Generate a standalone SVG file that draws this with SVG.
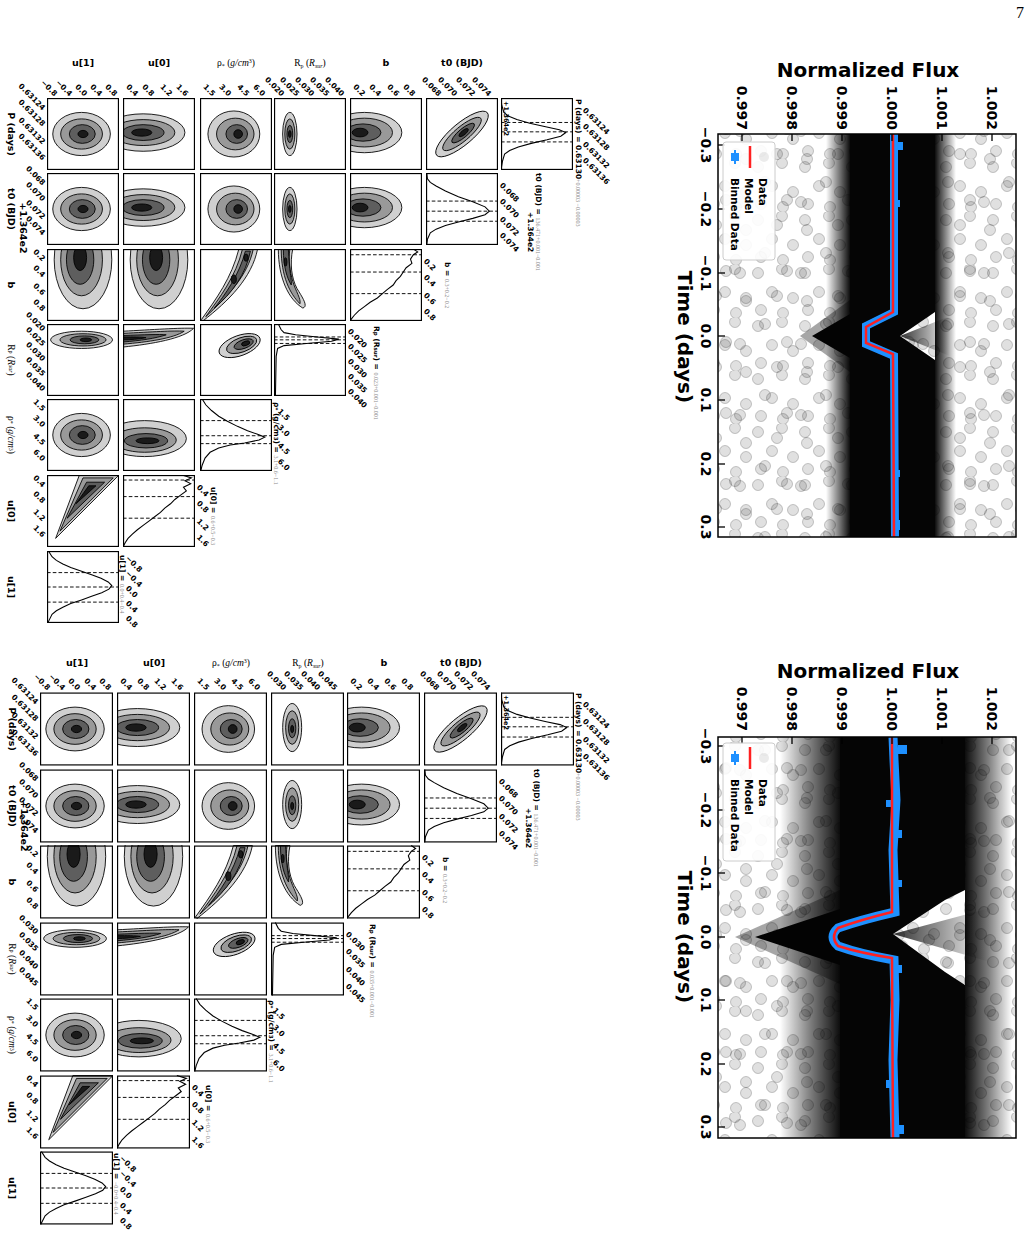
<svg xmlns="http://www.w3.org/2000/svg" xmlns:xlink="http://www.w3.org/1999/xlink" width="1031" height="1233" viewBox="0 0 1031 1233">
<style>
.c ellipse,.c path{stroke:#000;stroke-width:1.2}
.l1{fill:#d0d0d0}.l2{fill:#999}.l3{fill:#5e5e5e}.l4{fill:#1a1a1a}
.fr{fill:none;stroke:#000;stroke-width:1.6}
.h{fill:none;stroke:#000;stroke-width:1.5}
.dl{stroke:#000;stroke-width:1.3;stroke-dasharray:5 3}
.tk{font-family:"DejaVu Sans",sans-serif;font-weight:bold;font-size:7.5px;dominant-baseline:central}
.hd{font-family:"DejaVu Sans",sans-serif;font-weight:bold;font-size:9.5px;text-anchor:middle}
.sf{font-family:"Liberation Serif",serif;font-size:9.5px;text-anchor:middle}
.rl{font-family:"DejaVu Sans",sans-serif;font-weight:bold;font-size:9.5px;text-anchor:middle;dominant-baseline:central}
.rs{font-family:"Liberation Serif",serif;font-size:9.5px;text-anchor:middle;dominant-baseline:central}
.hl{font-family:"DejaVu Sans",sans-serif;font-weight:bold;font-size:7.5px;dominant-baseline:central}
.gv{fill:#888;font-family:"Liberation Serif",serif;font-weight:normal;font-size:6px}
.ax{font-family:"DejaVu Sans",sans-serif;font-weight:bold;font-size:14px;dominant-baseline:central}
.ttl{font-family:"DejaVu Sans",sans-serif;font-weight:bold;font-size:20px}
.lg{font-family:"DejaVu Sans",sans-serif;font-weight:bold;font-size:10.5px;dominant-baseline:central}
.tm{stroke:#000;stroke-width:1.3}
</style>
<defs>
<pattern id="dA" width="47" height="53" patternUnits="userSpaceOnUse">
<g fill="#000" fill-opacity="0.12" stroke="#000" stroke-opacity="0.2">
<circle cx="6" cy="8" r="5.5"/><circle cx="30" cy="4" r="5.5"/><circle cx="20" cy="27" r="5.5"/><circle cx="41" cy="33" r="5.5"/><circle cx="9" cy="45" r="5.5"/><circle cx="31" cy="48" r="5.5"/></g>
</pattern>
<pattern id="dB" width="61" height="71" patternUnits="userSpaceOnUse">
<g fill="#000" fill-opacity="0.12" stroke="#000" stroke-opacity="0.2">
<circle cx="14" cy="17" r="5.5"/><circle cx="45" cy="12" r="5.5"/><circle cx="33" cy="40" r="5.5"/><circle cx="55" cy="58" r="5.5"/><circle cx="8" cy="60" r="5.5"/></g>
</pattern>
<linearGradient id="gL1" gradientUnits="userSpaceOnUse" x1="826" y1="0" x2="850" y2="0"><stop offset="0" stop-color="#000" stop-opacity="0"/><stop offset="1" stop-color="#000" stop-opacity="0.95"/></linearGradient>
<linearGradient id="gR1" gradientUnits="userSpaceOnUse" x1="935" y1="0" x2="956" y2="0"><stop offset="0" stop-color="#000" stop-opacity="0.95"/><stop offset="1" stop-color="#000" stop-opacity="0"/></linearGradient>
<linearGradient id="gL2" gradientUnits="userSpaceOnUse" x1="780" y1="0" x2="840" y2="0"><stop offset="0" stop-color="#000" stop-opacity="0"/><stop offset="0.5" stop-color="#000" stop-opacity="0.5"/><stop offset="1" stop-color="#000" stop-opacity="0.95"/></linearGradient>
<linearGradient id="gR2" gradientUnits="userSpaceOnUse" x1="965" y1="0" x2="1012" y2="0"><stop offset="0" stop-color="#000" stop-opacity="0.95"/><stop offset="0.5" stop-color="#000" stop-opacity="0.5"/><stop offset="1" stop-color="#000" stop-opacity="0"/></linearGradient>
<linearGradient id="gN" x1="0" y1="0" x2="1" y2="0"><stop offset="0" stop-color="#000" stop-opacity="0.8"/><stop offset="1" stop-color="#000" stop-opacity="0"/></linearGradient>
<clipPath id="cp1"><rect x="718" y="134" width="298" height="403"/></clipPath>
<clipPath id="cp2"><rect x="718" y="737" width="298" height="401"/></clipPath>

<symbol id="blobC" viewBox="0 0 100 100"><g class="c"><ellipse class="l1" cx="48" cy="50" rx="40" ry="30"/><ellipse class="l2" cx="48" cy="50" rx="29" ry="21"/><ellipse class="l3" cx="49" cy="50" rx="18" ry="13"/><ellipse class="l4" cx="50" cy="50" rx="7" ry="5"/></g><rect class="fr" x="0.8" y="0.8" width="98.4" height="98.4"/></symbol>
<symbol id="blobL" viewBox="0 0 100 100"><g class="c"><ellipse class="l1" cx="28" cy="48" rx="58" ry="26"/><ellipse class="l2" cx="28" cy="48" rx="44" ry="18"/><ellipse class="l3" cx="28" cy="48" rx="29" ry="11"/><ellipse class="l4" cx="26" cy="48" rx="14" ry="5"/></g><rect class="fr" x="0.8" y="0.8" width="98.4" height="98.4"/></symbol>
<symbol id="blobR" viewBox="0 0 100 100"><g class="c"><ellipse class="l1" cx="47" cy="50" rx="36" ry="32"/><ellipse class="l2" cx="49" cy="50" rx="26" ry="22"/><ellipse class="l3" cx="51" cy="50" rx="15" ry="13"/><ellipse class="l4" cx="53" cy="50" rx="6" ry="6"/></g><rect class="fr" x="0.8" y="0.8" width="98.4" height="98.4"/></symbol>
<symbol id="vEllA" viewBox="0 0 100 100"><g class="c"><ellipse class="l1" cx="22" cy="50" rx="10" ry="30"/><ellipse class="l2" cx="22" cy="50" rx="7" ry="21"/><ellipse class="l3" cx="22" cy="50" rx="4" ry="12"/><ellipse class="l4" cx="22" cy="50" rx="1.8" ry="5"/></g><rect class="fr" x="0.8" y="0.8" width="98.4" height="98.4"/></symbol>
<symbol id="vEllB" viewBox="0 0 100 100"><g class="c"><ellipse class="l1" cx="29" cy="48" rx="13" ry="33"/><ellipse class="l2" cx="29" cy="48" rx="9" ry="23"/><ellipse class="l3" cx="29" cy="49" rx="5" ry="13"/><ellipse class="l4" cx="29" cy="50" rx="2" ry="5"/></g><rect class="fr" x="0.8" y="0.8" width="98.4" height="98.4"/></symbol>
<symbol id="bLeft" viewBox="0 0 100 100"><g class="c"><ellipse class="l1" cx="20" cy="48" rx="52" ry="28"/><ellipse class="l2" cx="20" cy="48" rx="39" ry="20"/><ellipse class="l3" cx="18" cy="48" rx="25" ry="12"/><ellipse class="l4" cx="14" cy="48" rx="11" ry="6"/></g><rect class="fr" x="0.8" y="0.8" width="98.4" height="98.4"/></symbol>
<symbol id="diag" viewBox="0 0 100 100"><g class="c" transform="rotate(-40 50 50)"><ellipse class="l1" cx="50" cy="50" rx="46" ry="15"/><ellipse class="l2" cx="50" cy="50" rx="34" ry="10"/><ellipse class="l3" cx="52" cy="50" rx="20" ry="6"/><ellipse class="l4" cx="53" cy="50" rx="8" ry="3"/></g><rect class="fr" x="0.8" y="0.8" width="98.4" height="98.4"/></symbol>
<symbol id="bTall" viewBox="0 0 100 100"><g class="c"><ellipse class="l1" cx="50" cy="15" rx="40" ry="68"/><ellipse class="l2" cx="48" cy="15" rx="29" ry="50"/><ellipse class="l3" cx="46" cy="15" rx="19" ry="34"/><ellipse class="l4" cx="46" cy="12" rx="9" ry="18"/></g><rect class="fr" x="0.8" y="0.8" width="98.4" height="98.4"/></symbol>
<symbol id="bRho" viewBox="0 0 100 100"><g class="c"><path class="l1" d="M2,98 C22,70 44,40 54,0 L80,0 C72,40 40,72 4,100 Z"/><path class="l2" d="M8,94 C27,68 50,38 59,0 L74,0 C66,38 38,66 8,94Z"/><path class="l3" d="M20,82 C34,65 55,35 63,3 L70,3 C64,35 44,62 20,82Z"/><ellipse class="l4" cx="47" cy="42" rx="3.5" ry="6"/><ellipse class="l4" cx="64" cy="12" rx="3" ry="5"/></g><rect class="fr" x="0.8" y="0.8" width="98.4" height="98.4"/></symbol>
<symbol id="bRp" viewBox="0 0 100 100"><g class="c"><path class="l1" d="M6,0 C6,40 20,70 40,82 C48,80 40,68 32,55 C24,40 22,20 26,0Z"/><path class="l2" d="M10,0 C10,38 22,62 36,76 C38,70 30,58 26,45 C22,30 20,15 22,0Z"/><path class="l3" d="M13,0 C13,25 18,40 24,50 C25,44 21,30 20,0Z"/><ellipse class="l4" cx="16" cy="18" rx="2" ry="6"/></g><rect class="fr" x="0.8" y="0.8" width="98.4" height="98.4"/></symbol>
<symbol id="rpH" viewBox="0 0 100 100"><g class="c"><ellipse class="l1" cx="48" cy="22" rx="43" ry="12"/><ellipse class="l2" cx="50" cy="22" rx="32" ry="8.5"/><ellipse class="l3" cx="52" cy="22" rx="20" ry="5.5"/><ellipse class="l4" cx="54" cy="22" rx="8" ry="2.5"/></g><rect class="fr" x="0.8" y="0.8" width="98.4" height="98.4"/></symbol>
<symbol id="rpWedge" viewBox="0 0 100 100"><g class="c"><path class="l1" d="M0,10 C40,8 80,5 98,6 C85,20 40,28 0,32Z"/><path class="l2" d="M0,13 C40,11 70,9 85,10 C70,20 35,25 0,28Z"/><path class="l3" d="M0,16 C30,15 50,14 60,15 C45,20 25,23 0,25Z"/><path class="l4" d="M0,18 C15,18 25,18 32,19 C22,21 10,22 0,22Z"/></g><rect class="fr" x="0.8" y="0.8" width="98.4" height="98.4"/></symbol>
<symbol id="rpSmall" viewBox="0 0 100 100"><g class="c" transform="rotate(-20 55 30)"><ellipse class="l1" cx="55" cy="30" rx="30" ry="14"/><ellipse class="l2" cx="58" cy="30" rx="22" ry="10"/><ellipse class="l3" cx="61" cy="30" rx="14" ry="6"/><ellipse class="l4" cx="64" cy="30" rx="6" ry="3"/></g><rect class="fr" x="0.8" y="0.8" width="98.4" height="98.4"/></symbol>
<symbol id="rhoU0" viewBox="0 0 100 100"><g class="c"><ellipse class="l1" cx="30" cy="55" rx="58" ry="25"/><ellipse class="l2" cx="30" cy="57" rx="44" ry="17"/><ellipse class="l3" cx="32" cy="58" rx="30" ry="10"/><ellipse class="l4" cx="34" cy="58" rx="16" ry="4"/></g><rect class="fr" x="0.8" y="0.8" width="98.4" height="98.4"/></symbol>
<symbol id="tri" viewBox="0 0 100 100"><g class="c"><path class="l1" d="M12,88 L45,0 L100,0 Z"/><path class="l2" d="M18,78 L50,4 L92,4Z"/><path class="l3" d="M28,60 L55,10 L80,10Z"/><path class="l4" d="M40,40 L58,15 L68,15Z"/></g><rect class="fr" x="0.8" y="0.8" width="98.4" height="98.4"/></symbol>

<symbol id="hP" viewBox="0 0 100 100"><line class="dl" x1="0" y1="34" x2="100" y2="34"/><line class="dl" x1="0" y1="47" x2="100" y2="47"/><line class="dl" x1="0" y1="61" x2="100" y2="61"/><polyline class="h" points="0,0 1,10 4,20 10,25 22,30 40,35 62,40 81,44 90,48 83,53 64,58 42,63 24,68 12,73 5,78 2,88 0,100"/><rect class="fr" x="0.8" y="0.8" width="98.4" height="98.4"/></symbol>
<symbol id="hT0" viewBox="0 0 100 100"><line class="dl" x1="0" y1="39" x2="100" y2="39"/><line class="dl" x1="0" y1="53" x2="100" y2="53"/><line class="dl" x1="0" y1="67" x2="100" y2="67"/><polyline class="h" points="1,0 2,8 6,13 14,18 27,25 45,33 65,40 82,47 88,53 82,58 65,63 45,68 27,73 14,78 6,83 2,92 1,100"/><rect class="fr" x="0.8" y="0.8" width="98.4" height="98.4"/></symbol>
<symbol id="hB" viewBox="0 0 100 100"><line class="dl" x1="0" y1="8" x2="100" y2="8"/><line class="dl" x1="0" y1="32" x2="100" y2="32"/><line class="dl" x1="0" y1="62" x2="100" y2="62"/><polyline class="h" points="88,0 94,4 88,8 84,14 86,20 78,26 74,32 70,38 64,44 60,50 52,56 45,62 38,68 28,74 20,80 12,86 6,92 2,97 0,100"/><rect class="fr" x="0.8" y="0.8" width="98.4" height="98.4"/></symbol>
<symbol id="hRp" viewBox="0 0 100 100"><line class="dl" x1="0" y1="18" x2="100" y2="18"/><line class="dl" x1="0" y1="22" x2="100" y2="22"/><line class="dl" x1="0" y1="27" x2="100" y2="27"/><polyline class="h" points="6,0 10,8 14,12 30,15 60,18 90,21 80,24 45,27 14,30 5,34 3,45 2,100"/><rect class="fr" x="0.8" y="0.8" width="98.4" height="98.4"/></symbol>
<symbol id="hRho" viewBox="0 0 100 100"><line class="dl" x1="0" y1="30" x2="100" y2="30"/><line class="dl" x1="0" y1="51" x2="100" y2="51"/><line class="dl" x1="0" y1="62" x2="100" y2="62"/><polyline class="h" points="3,0 8,8 16,16 26,24 38,31 52,38 66,44 80,49 90,53 82,57 62,61 42,64 26,68 14,74 7,82 3,92 1,100"/><rect class="fr" x="0.8" y="0.8" width="98.4" height="98.4"/></symbol>
<symbol id="hU0" viewBox="0 0 100 100"><line class="dl" x1="0" y1="7" x2="100" y2="7"/><line class="dl" x1="0" y1="30" x2="100" y2="30"/><line class="dl" x1="0" y1="60" x2="100" y2="60"/><polyline class="h" points="82,0 95,4 86,8 94,12 84,17 88,22 80,28 72,34 66,40 58,46 52,52 44,58 36,64 28,70 20,76 13,82 7,88 3,94 0,100"/><rect class="fr" x="0.8" y="0.8" width="98.4" height="98.4"/></symbol>
<symbol id="hU1" viewBox="0 0 100 100"><line class="dl" x1="0" y1="30" x2="100" y2="30"/><line class="dl" x1="0" y1="50" x2="100" y2="50"/><line class="dl" x1="0" y1="71" x2="100" y2="71"/><polyline class="h" points="2,0 7,8 13,13 22,18 33,23 48,28 62,33 75,38 85,43 90,48 86,53 76,58 62,63 48,68 33,73 22,78 13,83 7,88 3,96 1,100"/><rect class="fr" x="0.8" y="0.8" width="98.4" height="98.4"/></symbol>
</defs>

<rect width="1031" height="1233" fill="#fff"/>
<text x="1020" y="18" font-family="Liberation Serif, serif" font-size="16" text-anchor="middle">7</text>

<!-- ===== Light curve 1 ===== -->
<g id="lightcurve1">
<text class="ttl" x="868" y="77" text-anchor="middle">Normalized Flux</text>
<text class="ttl" transform="translate(685,337) rotate(90)" text-anchor="middle" dominant-baseline="central">Time (days)</text>
<g clip-path="url(#cp1)">
<rect x="718" y="134" width="298" height="403" fill="url(#dA)"/>
<rect x="718" y="134" width="298" height="403" fill="url(#dB)"/>
<rect x="826" y="134" width="24" height="403" fill="url(#gL1)"/>
<rect x="935" y="134" width="21" height="403" fill="url(#gR1)"/>
<polygon points="850,134 935,134 935,312 900,336 935,360 935,537 850,537 850,358 812,336 850,314" fill="#050505"/>
<polygon points="900,336 950,316 950,356" fill="url(#gN)"/>
<polygon points="850,300 800,336 850,372" fill="#000" fill-opacity="0.35"/>
<path d="M894,134 L894,312 L866,326 L866,344 L894,356 L895,537" fill="none" stroke="#1e90ff" stroke-width="8"/>
<g fill="#1e90ff"><rect x="896" y="142" width="7" height="8"/><rect x="893" y="520" width="7" height="10"/><rect x="895" y="470" width="5" height="7"/><rect x="895" y="200" width="5" height="7"/></g>
<path d="M893,134 L893,312 L866,327 L866,343 L893,354 L894,537" fill="none" stroke="#ff2020" stroke-width="2.5"/>
</g>
<rect x="718" y="134" width="298" height="403" fill="none" stroke="#000" stroke-width="1.5"/>
<g class="tm">
<line x1="742" y1="134" x2="742" y2="141"/><line x1="792" y1="134" x2="792" y2="141"/><line x1="842" y1="134" x2="842" y2="141"/><line x1="892" y1="134" x2="892" y2="141"/><line x1="942" y1="134" x2="942" y2="141"/><line x1="992" y1="134" x2="992" y2="141"/>
<line x1="718" y1="145" x2="725" y2="145"/><line x1="718" y1="209" x2="725" y2="209"/><line x1="718" y1="273" x2="725" y2="273"/><line x1="718" y1="336" x2="725" y2="336"/><line x1="718" y1="400" x2="725" y2="400"/><line x1="718" y1="464" x2="725" y2="464"/><line x1="718" y1="527" x2="725" y2="527"/>
</g>
<g class="ax" text-anchor="end">
<text transform="translate(742,130) rotate(90)">0.997</text><text transform="translate(792,130) rotate(90)">0.998</text><text transform="translate(842,130) rotate(90)">0.999</text><text transform="translate(892,130) rotate(90)">1.000</text><text transform="translate(942,130) rotate(90)">1.001</text><text transform="translate(992,130) rotate(90)">1.002</text>
</g>
<g class="ax" text-anchor="middle">
<text transform="translate(706,145) rotate(90)">−0.3</text><text transform="translate(706,209) rotate(90)">−0.2</text><text transform="translate(706,273) rotate(90)">−0.1</text><text transform="translate(706,336) rotate(90)">0.0</text><text transform="translate(706,400) rotate(90)">0.1</text><text transform="translate(706,464) rotate(90)">0.2</text><text transform="translate(706,527) rotate(90)">0.3</text>
</g>
<g id="legend1">
<rect x="723" y="142" width="52" height="118" rx="3" fill="#fff" fill-opacity="0.9" stroke="#ccc"/>
<circle cx="764" cy="157" r="5" fill="#000" fill-opacity="0.08"/>
<line x1="750" y1="146" x2="750" y2="168" stroke="#ff2020" stroke-width="2.5"/>
<rect x="731" y="153" width="8" height="8" fill="#1e90ff"/><line x1="735" y1="150" x2="735" y2="164" stroke="#1e90ff" stroke-width="2"/>
<text class="lg" transform="translate(763,178) rotate(90)">Data</text>
<text class="lg" transform="translate(749,178) rotate(90)">Model</text>
<text class="lg" transform="translate(735,178) rotate(90)">Binned Data</text>
</g>
</g>

<!-- ===== Light curve 2 ===== -->
<g id="lightcurve2">
<text class="ttl" x="868" y="678" text-anchor="middle">Normalized Flux</text>
<text class="ttl" transform="translate(685,937) rotate(90)" text-anchor="middle" dominant-baseline="central">Time (days)</text>
<g clip-path="url(#cp2)">
<rect x="718" y="737" width="298" height="401" fill="url(#dA)"/>
<rect x="718" y="737" width="298" height="401" fill="url(#dB)"/>
<rect x="780" y="737" width="60" height="401" fill="url(#gL2)"/>
<rect x="965" y="737" width="47" height="401" fill="url(#gR2)"/>
<polygon points="840,737 965,737 965,890 945,900 893,934 945,972 965,985 965,1138 840,1138 840,965 755,937 840,909" fill="#050505"/>
<polygon points="893,934 990,908 990,962" fill="url(#gN)"/>
<polygon points="840,890 735,937 840,984" fill="#000" fill-opacity="0.35"/>
<path d="M893,737 L894,760 L896,800 L893,850 L895,912 Q860,920 838,928 Q828,937 838,946 Q860,954 894,960 L895,1000 L893,1060 L895,1138" fill="none" stroke="#1e90ff" stroke-width="9"/>
<g fill="#1e90ff"><rect x="898" y="745" width="9" height="9"/><rect x="896" y="1125" width="8" height="9"/><rect x="896" y="830" width="6" height="8"/><rect x="896" y="965" width="6" height="8"/><rect x="886" y="1080" width="6" height="8"/><rect x="897" y="880" width="5" height="7"/><rect x="886" y="800" width="5" height="7"/></g>
<path d="M892,737 L892,912 Q860,920 838,928 Q830,937 838,946 Q860,953 892,958 L893,1138" fill="none" stroke="#ff2020" stroke-width="2.5"/>
</g>
<rect x="718" y="737" width="298" height="401" fill="none" stroke="#000" stroke-width="1.5"/>
<g class="tm">
<line x1="742" y1="737" x2="742" y2="744"/><line x1="792" y1="737" x2="792" y2="744"/><line x1="842" y1="737" x2="842" y2="744"/><line x1="892" y1="737" x2="892" y2="744"/><line x1="942" y1="737" x2="942" y2="744"/><line x1="992" y1="737" x2="992" y2="744"/>
<line x1="718" y1="746" x2="725" y2="746"/><line x1="718" y1="810" x2="725" y2="810"/><line x1="718" y1="873" x2="725" y2="873"/><line x1="718" y1="937" x2="725" y2="937"/><line x1="718" y1="1000" x2="725" y2="1000"/><line x1="718" y1="1064" x2="725" y2="1064"/><line x1="718" y1="1127" x2="725" y2="1127"/>
</g>
<g class="ax" text-anchor="end">
<text transform="translate(742,731) rotate(90)">0.997</text><text transform="translate(792,731) rotate(90)">0.998</text><text transform="translate(842,731) rotate(90)">0.999</text><text transform="translate(892,731) rotate(90)">1.000</text><text transform="translate(942,731) rotate(90)">1.001</text><text transform="translate(992,731) rotate(90)">1.002</text>
</g>
<g class="ax" text-anchor="middle">
<text transform="translate(706,746) rotate(90)">−0.3</text><text transform="translate(706,810) rotate(90)">−0.2</text><text transform="translate(706,873) rotate(90)">−0.1</text><text transform="translate(706,937) rotate(90)">0.0</text><text transform="translate(706,1000) rotate(90)">0.1</text><text transform="translate(706,1064) rotate(90)">0.2</text><text transform="translate(706,1127) rotate(90)">0.3</text>
</g>
<g id="legend2">
<rect x="723" y="743" width="52" height="118" rx="3" fill="#fff" fill-opacity="0.9" stroke="#ccc"/>
<circle cx="764" cy="758" r="5" fill="#000" fill-opacity="0.08"/>
<line x1="750" y1="747" x2="750" y2="769" stroke="#ff2020" stroke-width="2.5"/>
<rect x="731" y="754" width="8" height="8" fill="#1e90ff"/><line x1="735" y1="751" x2="735" y2="765" stroke="#1e90ff" stroke-width="2"/>
<text class="lg" transform="translate(763,779) rotate(90)">Data</text>
<text class="lg" transform="translate(749,779) rotate(90)">Model</text>
<text class="lg" transform="translate(735,779) rotate(90)">Binned Data</text>
</g>
</g>

<!-- ===== Corner plot 1 ===== -->
<g id="corner1">
<use href="#blobC" x="47" y="98" width="72" height="72"/><use href="#blobL" x="123" y="98" width="72" height="72"/><use href="#blobR" x="200" y="98" width="72" height="72"/><use href="#vEllA" x="274" y="98" width="72" height="72"/><use href="#bLeft" x="350" y="98" width="72" height="72"/><use href="#diag" x="426" y="98" width="72" height="72"/><use href="#hP" x="501" y="98" width="72" height="72"/>
<use href="#blobC" x="47" y="173" width="72" height="72"/><use href="#blobL" x="123" y="173" width="72" height="72"/><use href="#blobR" x="200" y="173" width="72" height="72"/><use href="#vEllA" x="274" y="173" width="72" height="72"/><use href="#bLeft" x="350" y="173" width="72" height="72"/><use href="#hT0" x="426" y="173" width="72" height="72"/>
<use href="#bTall" x="47" y="249" width="72" height="72"/><use href="#bTall" x="123" y="249" width="72" height="72"/><use href="#bRho" x="200" y="249" width="72" height="72"/><use href="#bRp" x="274" y="249" width="72" height="72"/><use href="#hB" x="350" y="249" width="72" height="72"/>
<use href="#rpH" x="47" y="324" width="72" height="72"/><use href="#rpWedge" x="123" y="324" width="72" height="72"/><use href="#rpSmall" x="200" y="324" width="72" height="72"/><use href="#hRp" x="274" y="324" width="72" height="72"/>
<use href="#blobC" x="47" y="399" width="72" height="72"/><use href="#rhoU0" x="123" y="399" width="72" height="72"/><use href="#hRho" x="200" y="399" width="72" height="72"/>
<use href="#tri" x="47" y="475" width="72" height="72"/><use href="#hU0" x="123" y="475" width="72" height="72"/>
<use href="#hU1" x="47" y="551" width="72" height="72"/>

<text class="hd" x="83" y="66">u[1]</text><text class="hd" x="159" y="66">u[0]</text>
<text class="sf" x="236" y="66">ρ<tspan font-size="6" dy="2">*</tspan><tspan dy="-2"> (</tspan><tspan font-style="italic">g/cm</tspan><tspan font-size="6" dy="-3">3</tspan><tspan dy="3">)</tspan></text>
<text class="sf" x="310" y="66">R<tspan font-size="6" dy="2">p</tspan><tspan dy="-2"> (</tspan><tspan font-style="italic">R<tspan font-size="6" dy="2">sur</tspan></tspan><tspan dy="-2">)</tspan></text>
<text class="hd" x="386" y="66">b</text><text class="hd" x="462" y="66">t0 (BJD)</text>

<g class="tk" text-anchor="end">
<text transform="translate(56,95) rotate(45)">−0.8</text><text transform="translate(71,95) rotate(45)">−0.4</text><text transform="translate(86,95) rotate(45)">0.0</text><text transform="translate(101,95) rotate(45)">0.4</text><text transform="translate(116,95) rotate(45)">0.8</text>
<text transform="translate(137,95) rotate(45)">0.4</text><text transform="translate(153,95) rotate(45)">0.8</text><text transform="translate(171,95) rotate(45)">1.2</text><text transform="translate(187,95) rotate(45)">1.6</text>
<text transform="translate(214,95) rotate(45)">1.5</text><text transform="translate(230,95) rotate(45)">3.0</text><text transform="translate(248,95) rotate(45)">4.5</text><text transform="translate(264,95) rotate(45)">6.0</text>
<text transform="translate(283,95) rotate(45)">0.020</text><text transform="translate(298,95) rotate(45)">0.025</text><text transform="translate(313,95) rotate(45)">0.030</text><text transform="translate(328,95) rotate(45)">0.035</text><text transform="translate(343,95) rotate(45)">0.040</text>
<text transform="translate(364,95) rotate(45)">0.2</text><text transform="translate(380,95) rotate(45)">0.4</text><text transform="translate(398,95) rotate(45)">0.6</text><text transform="translate(414,95) rotate(45)">0.8</text>
<text transform="translate(440,95) rotate(45)">0.068</text><text transform="translate(456,95) rotate(45)">0.070</text><text transform="translate(474,95) rotate(45)">0.072</text><text transform="translate(490,95) rotate(45)">0.074</text>

<text transform="translate(44,109) rotate(45)">0.63124</text><text transform="translate(44,125) rotate(45)">0.63128</text><text transform="translate(44,143) rotate(45)">0.63132</text><text transform="translate(44,159) rotate(45)">0.63136</text>
<text transform="translate(44,184) rotate(45)">0.068</text><text transform="translate(44,200) rotate(45)">0.070</text><text transform="translate(44,218) rotate(45)">0.072</text><text transform="translate(44,234) rotate(45)">0.074</text>
<text transform="translate(44,260) rotate(45)">0.2</text><text transform="translate(44,276) rotate(45)">0.4</text><text transform="translate(44,294) rotate(45)">0.6</text><text transform="translate(44,310) rotate(45)">0.8</text>
<text transform="translate(44,330) rotate(45)">0.020</text><text transform="translate(44,345) rotate(45)">0.025</text><text transform="translate(44,360) rotate(45)">0.030</text><text transform="translate(44,375) rotate(45)">0.035</text><text transform="translate(44,390) rotate(45)">0.040</text>
<text transform="translate(44,410) rotate(45)">1.5</text><text transform="translate(44,426) rotate(45)">3.0</text><text transform="translate(44,444) rotate(45)">4.5</text><text transform="translate(44,460) rotate(45)">6.0</text>
<text transform="translate(44,486) rotate(45)">0.4</text><text transform="translate(44,502) rotate(45)">0.8</text><text transform="translate(44,520) rotate(45)">1.2</text><text transform="translate(44,536) rotate(45)">1.6</text>
</g>
<g class="tk" text-anchor="start">
<text transform="translate(584,109) rotate(45)">0.63124</text><text transform="translate(584,125) rotate(45)">0.63128</text><text transform="translate(584,143) rotate(45)">0.63132</text><text transform="translate(584,159) rotate(45)">0.63136</text>
<text transform="translate(501,184) rotate(45)">0.068</text><text transform="translate(501,200) rotate(45)">0.070</text><text transform="translate(501,218) rotate(45)">0.072</text><text transform="translate(501,234) rotate(45)">0.074</text>
<text transform="translate(425,260) rotate(45)">0.2</text><text transform="translate(425,276) rotate(45)">0.4</text><text transform="translate(425,294) rotate(45)">0.6</text><text transform="translate(425,310) rotate(45)">0.8</text>
<text transform="translate(349,330) rotate(45)">0.020</text><text transform="translate(349,345) rotate(45)">0.025</text><text transform="translate(349,360) rotate(45)">0.030</text><text transform="translate(349,375) rotate(45)">0.035</text><text transform="translate(349,390) rotate(45)">0.040</text>
<text transform="translate(279,410) rotate(45)">1.5</text><text transform="translate(279,426) rotate(45)">3.0</text><text transform="translate(279,444) rotate(45)">4.5</text><text transform="translate(279,460) rotate(45)">6.0</text>
<text transform="translate(198,486) rotate(45)">0.4</text><text transform="translate(198,502) rotate(45)">0.8</text><text transform="translate(198,520) rotate(45)">1.2</text><text transform="translate(198,536) rotate(45)">1.6</text>
<text transform="translate(127,557) rotate(45)">−0.8</text><text transform="translate(127,572) rotate(45)">−0.4</text><text transform="translate(127,587) rotate(45)">0.0</text><text transform="translate(127,602) rotate(45)">0.4</text><text transform="translate(127,617) rotate(45)">0.8</text>
</g>
<g class="hl">
<text transform="translate(578,99) rotate(90)">P (days) = 0.63130<tspan class="gv">+0.00003 −0.00003</tspan></text>
<text transform="translate(506,101) rotate(90)" font-size="6.5">+1.364e2</text>
<text transform="translate(538,173) rotate(90)">t0 (BJD) = <tspan class="gv">136.471+0.001−0.001</tspan></text>
<text transform="translate(530,212) rotate(90)">+1.364e2</text>
<text transform="translate(447,262) rotate(90)">b = <tspan class="gv">0.3+0.2−0.2</tspan></text>
<text transform="translate(376,326) rotate(90)">R<tspan font-size="5.5">p</tspan> (R<tspan font-size="5.5">sur</tspan>) = <tspan class="gv">0.023+0.001−0.001</tspan></text>
<text transform="translate(276,402) rotate(90)">ρ<tspan font-size="5.5">*</tspan> (g/cm<tspan font-size="5.5">3</tspan>) = <tspan class="gv">3.1+0.6−1.1</tspan></text>
<text transform="translate(213,487) rotate(90)">u[0] = <tspan class="gv">0.6+0.5−0.3</tspan></text>
<text transform="translate(122,555) rotate(90)">u[1] = <tspan class="gv">0.0+0.4−0.4</tspan></text>
</g>
<text class="rl" transform="translate(11,134) rotate(90)">P (days)</text>
<text class="rl" transform="translate(11,209) rotate(90)">t0 (BJD)</text>
<text class="rl" transform="translate(23,228) rotate(90)" font-size="8">+1.364e2</text>
<text class="rl" transform="translate(11,285) rotate(90)">b</text>
<text class="rs" transform="translate(11,360) rotate(90)">R<tspan font-size="6">p</tspan> (<tspan font-style="italic">R<tspan font-size="6">sur</tspan></tspan>)</text>
<text class="rs" transform="translate(11,435) rotate(90)">ρ<tspan font-size="6">*</tspan> (<tspan font-style="italic">g/cm</tspan><tspan font-size="6">3</tspan>)</text>
<text class="rl" transform="translate(11,511) rotate(90)">u[0]</text>
<text class="rl" transform="translate(11,587) rotate(90)">u[1]</text>
</g>

<!-- ===== Corner plot 2 ===== -->
<g id="corner2">
<use href="#blobC" x="40" y="692" width="73" height="74"/><use href="#blobL" x="117" y="692" width="73" height="74"/><use href="#blobR" x="194" y="692" width="73" height="74"/><use href="#vEllB" x="271" y="692" width="73" height="74"/><use href="#bLeft" x="347" y="692" width="73" height="74"/><use href="#diag" x="424" y="692" width="73" height="74"/><use href="#hP" x="501" y="692" width="73" height="74"/>
<use href="#blobC" x="40" y="769" width="73" height="74"/><use href="#blobL" x="117" y="769" width="73" height="74"/><use href="#blobR" x="194" y="769" width="73" height="74"/><use href="#vEllB" x="271" y="769" width="73" height="74"/><use href="#bLeft" x="347" y="769" width="73" height="74"/><use href="#hT0" x="424" y="769" width="73" height="74"/>
<use href="#bTall" x="40" y="845" width="73" height="74"/><use href="#bTall" x="117" y="845" width="73" height="74"/><use href="#bRho" x="194" y="845" width="73" height="74"/><use href="#bRp" x="271" y="845" width="73" height="74"/><use href="#hB" x="347" y="845" width="73" height="74"/>
<use href="#rpH" x="40" y="922" width="73" height="74"/><use href="#rpWedge" x="117" y="922" width="73" height="74"/><use href="#rpSmall" x="194" y="922" width="73" height="74"/><use href="#hRp" x="271" y="922" width="73" height="74"/>
<use href="#blobC" x="40" y="998" width="73" height="74"/><use href="#rhoU0" x="117" y="998" width="73" height="74"/><use href="#hRho" x="194" y="998" width="73" height="74"/>
<use href="#tri" x="40" y="1075" width="73" height="74"/><use href="#hU0" x="117" y="1075" width="73" height="74"/>
<use href="#hU1" x="40" y="1151" width="73" height="74"/>

<text class="hd" x="77" y="666">u[1]</text><text class="hd" x="154" y="666">u[0]</text>
<text class="sf" x="231" y="666">ρ<tspan font-size="6" dy="2">*</tspan><tspan dy="-2"> (</tspan><tspan font-style="italic">g/cm</tspan><tspan font-size="6" dy="-3">3</tspan><tspan dy="3">)</tspan></text>
<text class="sf" x="308" y="666">R<tspan font-size="6" dy="2">p</tspan><tspan dy="-2"> (</tspan><tspan font-style="italic">R<tspan font-size="6" dy="2">sur</tspan></tspan><tspan dy="-2">)</tspan></text>
<text class="hd" x="384" y="666">b</text><text class="hd" x="461" y="666">t0 (BJD)</text>

<g class="tk" text-anchor="end">
<text transform="translate(49,689) rotate(45)">−0.8</text><text transform="translate(64,689) rotate(45)">−0.4</text><text transform="translate(79,689) rotate(45)">0.0</text><text transform="translate(95,689) rotate(45)">0.4</text><text transform="translate(110,689) rotate(45)">0.8</text>
<text transform="translate(131,689) rotate(45)">0.4</text><text transform="translate(148,689) rotate(45)">0.8</text><text transform="translate(165,689) rotate(45)">1.2</text><text transform="translate(182,689) rotate(45)">1.6</text>
<text transform="translate(208,689) rotate(45)">1.5</text><text transform="translate(225,689) rotate(45)">3.0</text><text transform="translate(242,689) rotate(45)">4.5</text><text transform="translate(259,689) rotate(45)">6.0</text>
<text transform="translate(285,689) rotate(45)">0.030</text><text transform="translate(302,689) rotate(45)">0.035</text><text transform="translate(319,689) rotate(45)">0.040</text><text transform="translate(336,689) rotate(45)">0.045</text>
<text transform="translate(361,689) rotate(45)">0.2</text><text transform="translate(378,689) rotate(45)">0.4</text><text transform="translate(395,689) rotate(45)">0.6</text><text transform="translate(412,689) rotate(45)">0.8</text>
<text transform="translate(438,689) rotate(45)">0.068</text><text transform="translate(455,689) rotate(45)">0.070</text><text transform="translate(472,689) rotate(45)">0.072</text><text transform="translate(489,689) rotate(45)">0.074</text>

<text transform="translate(37,703) rotate(45)">0.63124</text><text transform="translate(37,720) rotate(45)">0.63128</text><text transform="translate(37,738) rotate(45)">0.63132</text><text transform="translate(37,755) rotate(45)">0.63136</text>
<text transform="translate(37,780) rotate(45)">0.068</text><text transform="translate(37,797) rotate(45)">0.070</text><text transform="translate(37,815) rotate(45)">0.072</text><text transform="translate(37,832) rotate(45)">0.074</text>
<text transform="translate(37,856) rotate(45)">0.2</text><text transform="translate(37,873) rotate(45)">0.4</text><text transform="translate(37,891) rotate(45)">0.6</text><text transform="translate(37,908) rotate(45)">0.8</text>
<text transform="translate(37,933) rotate(45)">0.030</text><text transform="translate(37,950) rotate(45)">0.035</text><text transform="translate(37,968) rotate(45)">0.040</text><text transform="translate(37,985) rotate(45)">0.045</text>
<text transform="translate(37,1009) rotate(45)">1.5</text><text transform="translate(37,1026) rotate(45)">3.0</text><text transform="translate(37,1044) rotate(45)">4.5</text><text transform="translate(37,1061) rotate(45)">6.0</text>
<text transform="translate(37,1086) rotate(45)">0.4</text><text transform="translate(37,1103) rotate(45)">0.8</text><text transform="translate(37,1121) rotate(45)">1.2</text><text transform="translate(37,1138) rotate(45)">1.6</text>
</g>
<g class="tk" text-anchor="start">
<text transform="translate(584,703) rotate(45)">0.63124</text><text transform="translate(584,720) rotate(45)">0.63128</text><text transform="translate(584,738) rotate(45)">0.63132</text><text transform="translate(584,755) rotate(45)">0.63136</text>
<text transform="translate(500,780) rotate(45)">0.068</text><text transform="translate(500,797) rotate(45)">0.070</text><text transform="translate(500,815) rotate(45)">0.072</text><text transform="translate(500,832) rotate(45)">0.074</text>
<text transform="translate(423,856) rotate(45)">0.2</text><text transform="translate(423,873) rotate(45)">0.4</text><text transform="translate(423,891) rotate(45)">0.6</text><text transform="translate(423,908) rotate(45)">0.8</text>
<text transform="translate(347,933) rotate(45)">0.030</text><text transform="translate(347,950) rotate(45)">0.035</text><text transform="translate(347,968) rotate(45)">0.040</text><text transform="translate(347,985) rotate(45)">0.045</text>
<text transform="translate(274,1009) rotate(45)">1.5</text><text transform="translate(274,1026) rotate(45)">3.0</text><text transform="translate(274,1044) rotate(45)">4.5</text><text transform="translate(274,1061) rotate(45)">6.0</text>
<text transform="translate(193,1086) rotate(45)">0.4</text><text transform="translate(193,1103) rotate(45)">0.8</text><text transform="translate(193,1121) rotate(45)">1.2</text><text transform="translate(193,1138) rotate(45)">1.6</text>
<text transform="translate(121,1157) rotate(45)">−0.8</text><text transform="translate(121,1172) rotate(45)">−0.4</text><text transform="translate(121,1188) rotate(45)">0.0</text><text transform="translate(121,1204) rotate(45)">0.4</text><text transform="translate(121,1219) rotate(45)">0.8</text>
</g>
<g class="hl">
<text transform="translate(578,693) rotate(90)">P (days) = 0.63130<tspan class="gv">+0.00003 −0.00003</tspan></text>
<text transform="translate(506,695) rotate(90)" font-size="6.5">+1.364e2</text>
<text transform="translate(536,769) rotate(90)">t0 (BJD) = <tspan class="gv">136.471+0.001−0.001</tspan></text>
<text transform="translate(528,808) rotate(90)">+1.364e2</text>
<text transform="translate(445,857) rotate(90)">b = <tspan class="gv">0.3+0.2−0.2</tspan></text>
<text transform="translate(372,924) rotate(90)">R<tspan font-size="5.5">p</tspan> (R<tspan font-size="5.5">sur</tspan>) = <tspan class="gv">0.035+0.001−0.001</tspan></text>
<text transform="translate(271,1000) rotate(90)">ρ<tspan font-size="5.5">*</tspan> (g/cm<tspan font-size="5.5">3</tspan>) = <tspan class="gv">3.1+0.6−1.1</tspan></text>
<text transform="translate(208,1085) rotate(90)">u[0] = <tspan class="gv">0.6+0.5−0.3</tspan></text>
<text transform="translate(116,1153) rotate(90)">u[1] = <tspan class="gv">−0.0+0.4−0.4</tspan></text>
</g>
<text class="rl" transform="translate(12,729) rotate(90)">P (days)</text>
<text class="rl" transform="translate(12,806) rotate(90)">t0 (BJD)</text>
<text class="rl" transform="translate(24,826) rotate(90)" font-size="8">+1.364e2</text>
<text class="rl" transform="translate(12,882) rotate(90)">b</text>
<text class="rs" transform="translate(12,959) rotate(90)">R<tspan font-size="6">p</tspan> (<tspan font-style="italic">R<tspan font-size="6">sur</tspan></tspan>)</text>
<text class="rs" transform="translate(12,1035) rotate(90)">ρ<tspan font-size="6">*</tspan> (<tspan font-style="italic">g/cm</tspan><tspan font-size="6">3</tspan>)</text>
<text class="rl" transform="translate(12,1112) rotate(90)">u[0]</text>
<text class="rl" transform="translate(12,1188) rotate(90)">u[1]</text>
</g>
</svg>
